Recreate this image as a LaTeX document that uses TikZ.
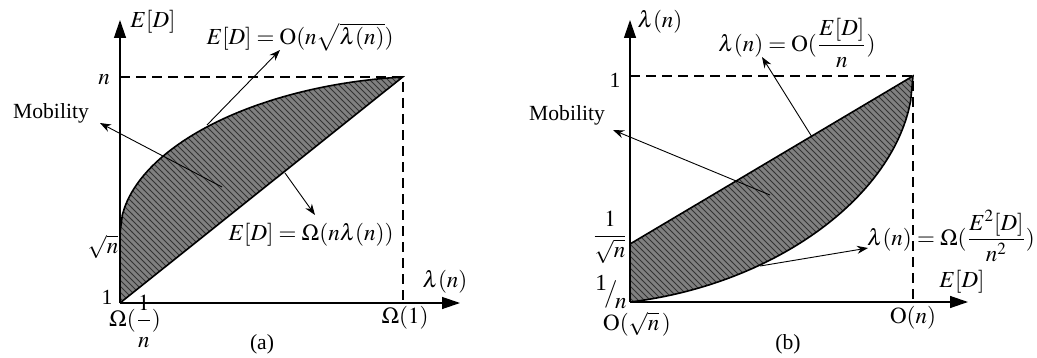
\documentclass[tikz,border=0pt]{standalone}
\usepackage{amsmath}
\usepackage{mathptmx}
\usepackage[no-math]{fontspec}
\setmainfont{Liberation Serif}
\usetikzlibrary{arrows.meta,patterns}

\tikzset{
  axis/.style={line width=0.65pt,-{Triangle[length=9pt,width=6pt]}},
  bound/.style={line width=0.8pt,dash pattern=on 5pt off 3pt},
  region/.style={fill=black!50,postaction={pattern=north west lines,pattern color=black!80}},
  edge/.style={line width=0.8pt},
  pointer/.style={line width=0.45pt,-{Stealth[length=5.5pt,width=4pt]}},
  lbl/.style={inner sep=1pt,font=\fontsize{11.5}{13}\selectfont},
  word/.style={inner sep=1pt,font=\fontsize{10.8}{13}\selectfont}
}

\begin{document}
\begin{tikzpicture}[x=0.5pt,y=-0.5pt]
  \useasboundingbox (0,0) rectangle (1037,358);
  % (a)
  \coordinate (oa) at (120,303);
  \fill[region] (120,233) -- plot[domain=0:1,samples=120] ({120+283*\x},{303-226*(0.31+0.69*(0.9*sqrt(max(\x*(2-\x),0))+0.1*\x))}) -- (oa) -- cycle;
  \draw[edge] (120,233) -- plot[domain=0:1,samples=120] ({120+283*\x},{303-226*(0.31+0.69*(0.9*sqrt(max(\x*(2-\x),0))+0.1*\x))}) -- (oa);
  \draw[bound] (120,77) -- (403,77) -- (403,303);
  \draw[axis] (oa) -- (120,20);
  \draw[axis] (oa) -- (460,303);
  \node[lbl] (eda) at (153,22) {$E[D]$};
  \node[lbl] (na) at (104,80) {$n$};
  \node[lbl] (sqna) at (103,247) {$\sqrt{n}$};
  \node[word] (onea) at (107,297) {1};
  \node[lbl,anchor=base] (omina) at (135,326) {$\Omega(\genfrac{}{}{0.4pt}{0}{1}{\raisebox{-3pt}{$n$}})$};
  \node[lbl] (omaxa) at (405,318) {$\Omega(1)$};
  \node[lbl] (lama) at (445,282) {$\lambda(n)$};
  \node[word] (capa) at (262,344) {(a)};
  \node[word] (moba) at (51,113) {Mobility};
  \node[lbl] (upa) at (300,37) {$E[D]=\mathrm{O}(n\sqrt{\lambda(n)})$};
  \node[lbl] (loa) at (311,235) {$E[D]=\Omega(n\lambda(n))$};
  \coordinate (ma) at (222,187);
  \coordinate (ua) at (207,125);
  \coordinate (la) at (285,173);
  \coordinate (mta) at (100,123);
  \coordinate (uta) at (280,50);
  \coordinate (lta) at (315,215);
  \draw[pointer] (ma) -- (mta);
  \draw[pointer] (ua) -- (uta);
  \draw[pointer] (la) -- (lta);
  % (b)
  \coordinate (ob) at (630,302);
  \fill[region] (630,244) -- (913,76) -- plot[domain=1:0,samples=120] ({630+283*\x},{302-226*(0.15*\x+0.85*(1-sqrt(max(1-\x*\x,0))))}) -- cycle;
  \draw[edge] (630,244) -- (913,76) -- plot[domain=1:0,samples=120] ({630+283*\x},{302-226*(0.15*\x+0.85*(1-sqrt(max(1-\x*\x,0))))});
  \draw[bound] (630,76) -- (913,76) -- (913,302);
  \draw[axis] (ob) -- (630,20);
  \draw[axis] (ob) -- (968,302);
  \node[lbl] (lamb) at (660,22) {$\lambda(n)$};
  \node[word] (oneb) at (615,80) {1};
  \node[lbl,inner sep=0pt] (isqb) at (610,237) {$\dfrac{1}{\sqrt{n}}$};
  \node[lbl,inner sep=0pt] (invb) at (611,292) {$\raisebox{5pt}{1}\!\big/\!\raisebox{-4pt}{$n$}$};
  \node[lbl] (ominb) at (637,324) {$\mathrm{O}(\sqrt{n}\,)$};
  \node[lbl] (omaxb) at (913,318) {$\mathrm{O}(n)$};
  \node[lbl] (edb) at (962,282) {$E[D]$};
  \node[word] (capb) at (788,344) {(b)};
  \node[word] (mobb) at (567,115) {Mobility};
  \node[lbl] (upb) at (797,43) {$\lambda(n)=\mathrm{O}(\dfrac{E[D]}{n})$};
  \node[lbl] (lob) at (951,236) {$\lambda(n)=\Omega(\dfrac{E^2[D]}{n^2})$};
  \coordinate (mb) at (770,195);
  \coordinate (ub) at (812,137);
  \coordinate (lb) at (760,266);
  \coordinate (mtb) at (613,130);
  \coordinate (utb) at (762,57);
  \coordinate (ltb) at (868,248);
  \draw[pointer] (mb) -- (mtb);
  \draw[pointer] (ub) -- (utb);
  \draw[pointer] (lb) -- (ltb);
\end{tikzpicture}
\end{document}
